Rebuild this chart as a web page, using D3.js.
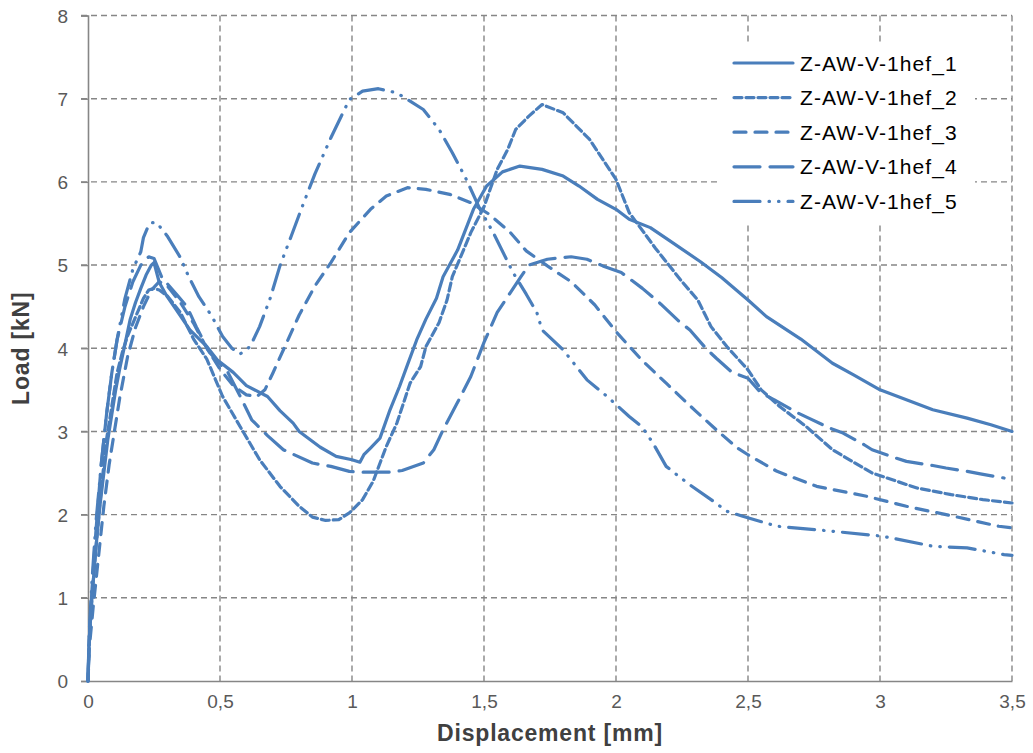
<!DOCTYPE html>
<html>
<head>
<meta charset="utf-8">
<script src="https://cdn.jsdelivr.net/npm/d3@7.9.0/dist/d3.min.js"></script>
<style>
  html, body { margin: 0; padding: 0; background: #fff; }
  text { font-family: "Liberation Sans", Arial, sans-serif; }
</style>
</head>
<body>
<svg id="chart" width="1033" height="753"></svg>
<script>
// Load-displacement curves, values
const seriesNames = ['Z-AW-V-1hef_1', 'Z-AW-V-1hef_2', 'Z-AW-V-1hef_3', 'Z-AW-V-1hef_4', 'Z-AW-V-1hef_5'];

const xTicks = [0, 0.5, 1, 1.5, 2, 2.5, 3, 3.5];
const yTicks = [0, 1, 2, 3, 4, 5, 6, 7, 8];

// [displacement mm, load kN]
const s1 = [[0,0],[0.003,0.4],[0.01,0.8],[0.02,1.2],[0.03,1.6],[0.045,2.1],[0.06,2.5],[0.075,2.9],[0.09,3.2],[0.105,3.5],
  [0.12,3.75],[0.14,4.05],[0.16,4.35],[0.18,4.55],[0.2,4.72],[0.22,4.88],[0.24,5.0],[0.25,5.03],[0.27,4.79],[0.3,4.62],
  [0.337,4.45],[0.386,4.22],[0.45,4.02],[0.49,3.86],[0.55,3.71],[0.6,3.55],[0.68,3.42],[0.727,3.25],[0.777,3.1],[0.8,3.0],
  [0.88,2.81],[0.94,2.7],[1.0,2.66],[1.03,2.63],[1.045,2.72],[1.07,2.8],[1.106,2.92],[1.144,3.26],[1.18,3.54],[1.21,3.8],
  [1.245,4.1],[1.28,4.35],[1.32,4.6],[1.345,4.86],[1.4,5.18],[1.46,5.67],[1.51,5.95],[1.57,6.12],[1.636,6.19],[1.72,6.15],
  [1.8,6.07],[1.86,5.95],[1.93,5.79],[2.0,5.67],[2.05,5.55],[2.13,5.45],[2.2,5.3],[2.32,5.04],[2.4,4.85],[2.5,4.58],
  [2.57,4.38],[2.7,4.11],[2.82,3.82],[2.9,3.68],[3.0,3.5],[3.1,3.38],[3.2,3.26],[3.33,3.16],[3.42,3.08],[3.5,3.0]];

const s2 = [[0,0],[0.005,0.5],[0.015,1.0],[0.03,1.6],[0.05,2.3],[0.07,2.9],[0.09,3.3],[0.11,3.7],[0.13,3.95],[0.15,4.15],
  [0.17,4.3],[0.19,4.45],[0.21,4.6],[0.23,4.7],[0.25,4.72],[0.27,4.7],[0.3,4.63],[0.35,4.43],[0.4,4.11],[0.45,3.87],
  [0.51,3.42],[0.576,3.06],[0.65,2.66],[0.727,2.34],[0.8,2.1],[0.85,1.97],[0.9,1.93],[0.95,1.94],[0.99,2.02],[1.04,2.18],
  [1.08,2.4],[1.13,2.82],[1.17,3.1],[1.22,3.58],[1.26,3.78],[1.28,4.02],[1.33,4.31],[1.36,4.58],[1.38,4.86],[1.45,5.39],
  [1.5,5.7],[1.55,6.15],[1.59,6.39],[1.62,6.63],[1.67,6.79],[1.72,6.93],[1.8,6.83],[1.9,6.51],[1.95,6.27],[2.0,6.03],
  [2.05,5.63],[2.15,5.2],[2.25,4.8],[2.31,4.58],[2.36,4.26],[2.42,4.02],[2.5,3.74],[2.55,3.5],[2.62,3.3],[2.72,3.06],
  [2.82,2.78],[2.97,2.5],[3.14,2.32],[3.27,2.24],[3.39,2.18],[3.5,2.14]];

const s3 = [[0,0],[0.005,0.4],[0.02,0.9],[0.04,1.5],[0.06,2.1],[0.08,2.6],[0.1,3.0],[0.12,3.4],[0.15,3.9],[0.18,4.25],
  [0.21,4.5],[0.24,4.7],[0.27,4.8],[0.3,4.75],[0.35,4.55],[0.4,4.3],[0.45,4.0],[0.5,3.75],[0.55,3.55],[0.6,3.44],
  [0.64,3.42],[0.67,3.5],[0.7,3.7],[0.75,4.05],[0.8,4.4],[0.86,4.75],[0.92,5.03],[0.99,5.39],[1.07,5.67],[1.13,5.83],
  [1.21,5.93],[1.28,5.91],[1.37,5.85],[1.45,5.75],[1.52,5.61],[1.6,5.39],[1.66,5.17],[1.74,4.99],[1.83,4.8],[1.92,4.52],
  [2.0,4.2],[2.1,3.85],[2.19,3.58],[2.3,3.25],[2.38,3.02],[2.46,2.8],[2.5,2.72],[2.61,2.52],[2.76,2.34],[2.95,2.22],
  [3.1,2.1],[3.28,1.98],[3.45,1.86],[3.5,1.84]];

const s4 = [[0,0],[0.005,0.5],[0.015,1.1],[0.03,1.8],[0.05,2.6],[0.07,3.2],[0.09,3.7],[0.11,4.1],[0.14,4.5],[0.17,4.8],
  [0.2,5.0],[0.23,5.1],[0.25,5.08],[0.28,4.85],[0.34,4.63],[0.375,4.5],[0.41,4.26],[0.46,3.95],[0.53,3.71],[0.58,3.4],
  [0.62,3.14],[0.68,2.95],[0.74,2.78],[0.85,2.62],[0.92,2.58],[0.99,2.52],[1.04,2.51],[1.14,2.51],[1.19,2.53],[1.27,2.62],
  [1.31,2.78],[1.345,3.02],[1.4,3.35],[1.45,3.66],[1.5,4.07],[1.55,4.43],[1.6,4.67],[1.64,4.86],[1.67,5.0],[1.74,5.07],
  [1.83,5.1],[1.89,5.07],[1.95,4.99],[2.02,4.91],[2.1,4.72],[2.17,4.53],[2.24,4.32],[2.28,4.22],[2.34,4.0],[2.38,3.88],
  [2.44,3.71],[2.5,3.64],[2.55,3.46],[2.6,3.38],[2.69,3.22],[2.73,3.16],[2.81,3.04],[2.86,2.98],[2.94,2.84],[2.97,2.78],
  [3.06,2.68],[3.1,2.64],[3.2,2.59],[3.25,2.56],[3.33,2.52],[3.38,2.49],[3.47,2.44]];

const s5 = [[0,0],[0.005,0.6],[0.015,1.2],[0.03,1.9],[0.05,2.6],[0.07,3.2],[0.09,3.7],[0.11,4.1],[0.14,4.6],[0.17,4.95],
  [0.2,5.16],[0.21,5.33],[0.23,5.48],[0.24,5.51],[0.26,5.51],[0.3,5.35],[0.35,5.09],[0.38,4.87],[0.42,4.62],[0.47,4.38],
  [0.51,4.14],[0.545,4.0],[0.576,3.93],[0.614,4.02],[0.65,4.26],[0.69,4.6],[0.727,4.99],[0.77,5.35],[0.81,5.69],[0.86,6.1],
  [0.92,6.53],[0.99,6.99],[1.04,7.09],[1.1,7.12],[1.17,7.07],[1.22,6.97],[1.27,6.87],[1.33,6.63],[1.38,6.35],[1.43,6.05],
  [1.485,5.67],[1.535,5.39],[1.61,4.91],[1.66,4.65],[1.7,4.43],[1.72,4.22],[1.8,3.98],[1.89,3.62],[1.97,3.41],[2.05,3.18],
  [2.1,3.05],[2.14,2.86],[2.19,2.58],[2.27,2.38],[2.36,2.18],[2.42,2.04],[2.48,1.98],[2.61,1.86],[2.82,1.8],[3.01,1.74],
  [3.2,1.62],[3.33,1.6],[3.47,1.52],[3.5,1.51]];

const allSeries = [s1, s2, s3, s4, s5];
const dashes = [null, '8,4', '12,9', '26,10', '26,9,0.5,9,0.5,9'];

const svg = d3.select('#chart');
const margin = { left: 88, right: 21, top: 15.5, bottom: 72 };
const width = 1033, height = 753;

const x = d3.scaleLinear().domain([0, 3.5]).range([margin.left, width - margin.right]);
const y = d3.scaleLinear().domain([0, 8]).range([height - margin.bottom, margin.top]);

svg.append('rect').attr('width', width).attr('height', height).attr('fill', '#fff');

const gridColor = '#868686';

// gridlines
svg.append('g')
  .selectAll('line')
  .data(yTicks.slice(1))
  .join('line')
  .attr('x1', margin.left - 7).attr('x2', width - margin.right)
  .attr('y1', d => y(d)).attr('y2', d => y(d))
  .attr('stroke', gridColor).attr('stroke-width', 1.4)
  .attr('stroke-dasharray', '6,4');

svg.append('g')
  .selectAll('line')
  .data(xTicks.slice(1))
  .join('line')
  .attr('x1', d => x(d)).attr('x2', d => x(d))
  .attr('y1', margin.top).attr('y2', y(0))
  .attr('stroke', gridColor).attr('stroke-width', 1.4)
  .attr('stroke-dasharray', '6,4');

// axes
const fmt = d => String(d).replace('.', ',');

const xAxis = svg.append('g')
  .attr('transform', `translate(0,${y(0)})`)
  .call(d3.axisBottom(x).tickValues(xTicks).tickFormat(fmt).tickSize(0).tickPadding(14));
const yAxis = svg.append('g')
  .attr('transform', `translate(${margin.left},0)`)
  .call(d3.axisLeft(y).tickValues(yTicks).tickFormat(fmt).tickSize(7).tickPadding(13));

[xAxis, yAxis].forEach(g => {
  g.select('.domain').attr('stroke', gridColor).attr('stroke-width', 1.6);
  g.selectAll('.tick line').attr('stroke', gridColor).attr('stroke-width', 1.4);
  g.selectAll('text').attr('font-size', 19).attr('fill', '#595959')
    .attr('font-family', '"Liberation Sans", Arial, sans-serif');
});
yAxis.selectAll('text').attr('dy', '0.36em');

// series
const line = d3.line().x(d => x(d[0])).y(d => y(d[1]));

svg.append('g')
  .selectAll('path')
  .data(allSeries)
  .join('path')
  .attr('d', line)
  .attr('fill', 'none')
  .attr('stroke', '#4A7EBB')
  .attr('stroke-width', 3.2)
  .attr('stroke-linecap', 'round')
  .attr('stroke-linejoin', 'round')
  .attr('stroke-dasharray', (d, i) => dashes[i]);

// axis titles
svg.append('text')
  .attr('x', (margin.left + width - margin.right) / 2)
  .attr('y', 741)
  .attr('text-anchor', 'middle')
  .attr('font-size', 23).attr('font-weight', 'bold').attr('fill', '#404040')
  .attr('letter-spacing', 0.8)
  .text('Displacement [mm]');

svg.append('text')
  .attr('transform', `translate(29,${(margin.top + y(0)) / 2}) rotate(-90)`)
  .attr('text-anchor', 'middle')
  .attr('font-size', 23).attr('font-weight', 'bold').attr('fill', '#404040')
  .attr('letter-spacing', 0.8)
  .text('Load [kN]');

// legend (white box hides the gridlines behind it)
svg.append('rect')
  .attr('x', 720).attr('y', 45).attr('width', 255).attr('height', 177)
  .attr('fill', '#fff');

const legend = svg.append('g').attr('transform', 'translate(734,63)');
const rows = legend.selectAll('g')
  .data(seriesNames)
  .join('g')
  .attr('transform', (d, i) => `translate(0,${i * 34.6})`);

rows.append('line')
  .attr('x1', 0).attr('x2', 59).attr('y1', 0).attr('y2', 0)
  .attr('stroke', '#4A7EBB').attr('stroke-width', 3.2)
  .attr('stroke-linecap', 'round')
  .attr('stroke-dasharray', (d, i) => dashes[i]);

rows.append('text')
  .attr('x', 66).attr('y', 0).attr('dy', '0.36em')
  .attr('font-size', 21).attr('fill', '#000')
  .attr('letter-spacing', 1.1)
  .text(d => d);
</script>
</body>
</html>
